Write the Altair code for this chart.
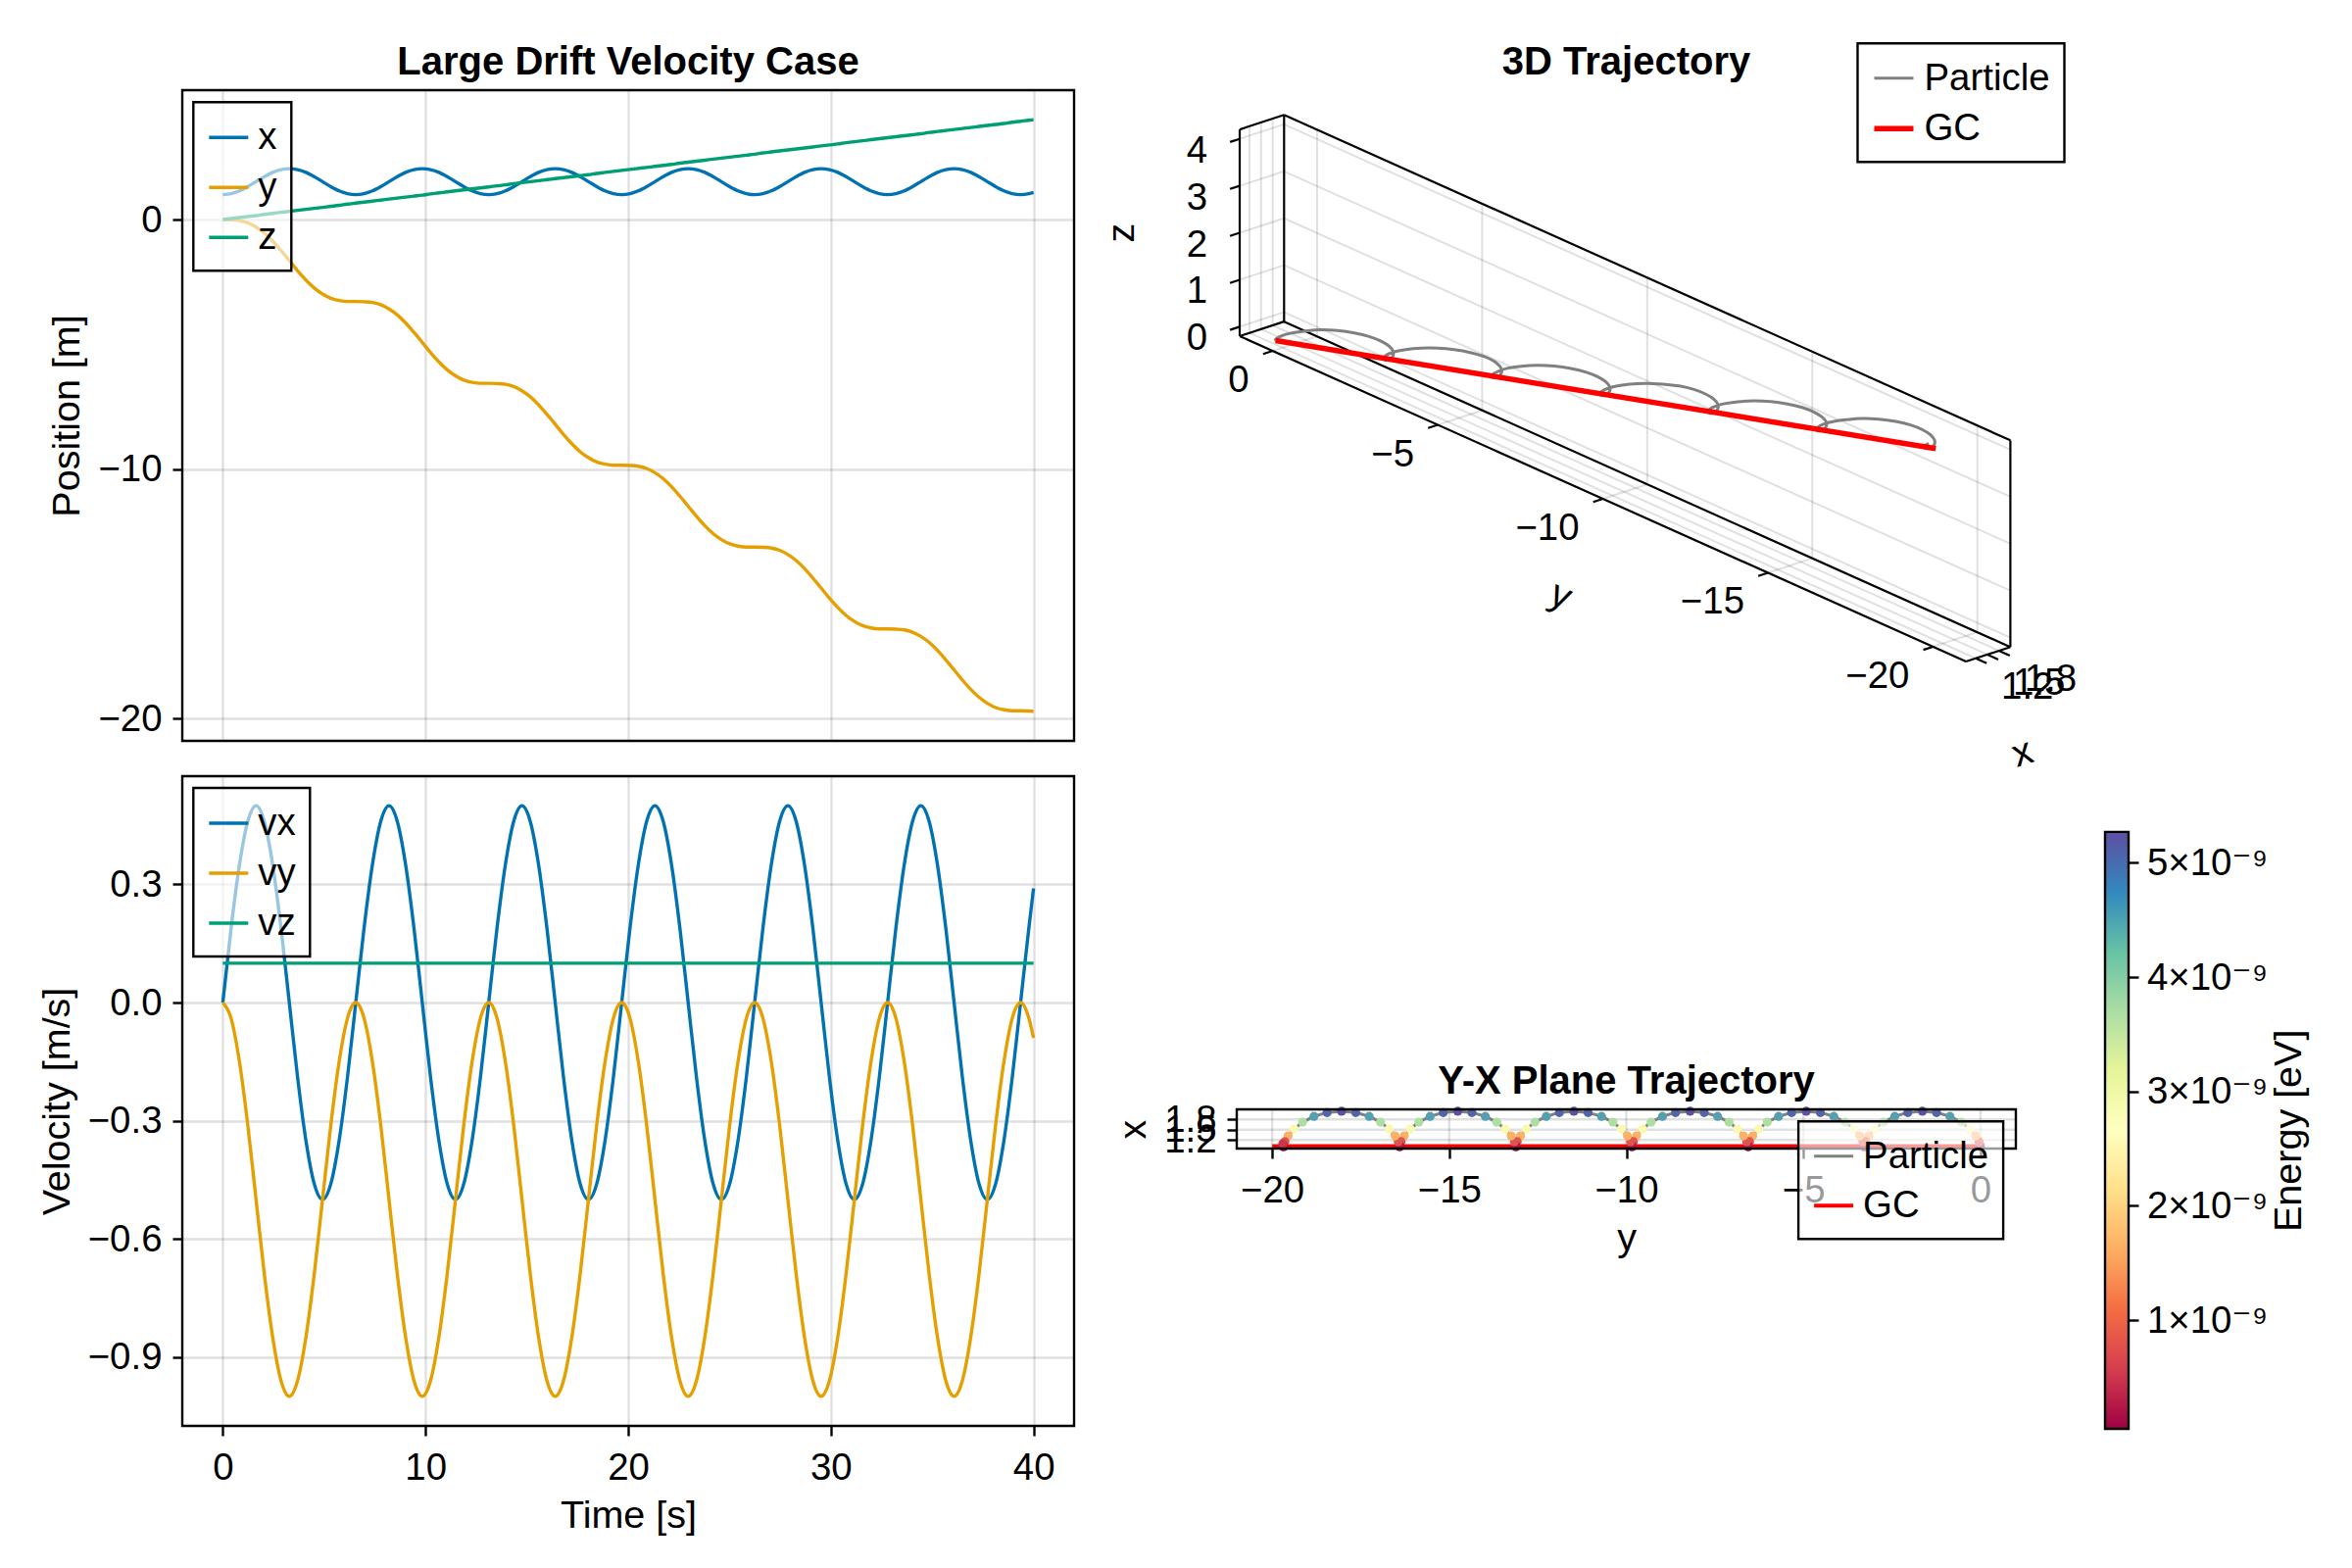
import math
import altair as alt
import pandas as pd

FONT = "Liberation Sans, Helvetica, Arial, DejaVu Sans, sans-serif"
FS = 38.4      # tick / legend labels
FS_T = 39.5    # axis titles
FS_H = 40.0    # panel titles
TITLE_OFF = 8.4

# ---------------- data ----------------
t = [
    0.00, 0.41, 0.82, 1.23, 1.64, 2.05, 2.46, 2.87, 3.28, 3.69, 4.10, 4.51, 4.92, 5.33, 5.74, 6.15,
    6.56, 6.97, 7.38, 7.79, 8.20, 8.61, 9.02, 9.43, 9.84, 10.25, 10.66, 11.07, 11.48, 11.89, 12.30, 12.71,
    13.12, 13.53, 13.94, 14.35, 14.76, 15.17, 15.58, 15.99, 16.40, 16.81, 17.22, 17.63, 18.04, 18.45, 18.86, 19.27,
    19.68, 20.09, 20.50, 20.91, 21.32, 21.73, 22.14, 22.55, 22.96, 23.37, 23.78, 24.19, 24.60, 25.01, 25.42, 25.83,
    26.24, 26.65, 27.06, 27.47, 27.88, 28.29, 28.70, 29.11, 29.52, 29.93, 30.34, 30.75, 31.16, 31.57, 31.98, 32.39,
    32.80, 33.21, 33.62, 34.03, 34.44, 34.85, 35.26, 35.67, 36.08, 36.49, 36.90, 37.31, 37.72, 38.13, 38.54, 38.95,
    39.36, 39.77, 40.00,
]
pos_x = [
    1.00, 1.04, 1.15, 1.32, 1.52, 1.72, 1.89, 2.00, 2.04, 2.00, 1.89, 1.72, 1.52, 1.32, 1.15, 1.04,
    1.00, 1.04, 1.15, 1.32, 1.52, 1.72, 1.89, 2.00, 2.04, 2.00, 1.89, 1.72, 1.52, 1.32, 1.15, 1.04,
    1.00, 1.04, 1.15, 1.32, 1.52, 1.72, 1.89, 2.00, 2.04, 2.00, 1.89, 1.72, 1.52, 1.32, 1.15, 1.04,
    1.00, 1.04, 1.15, 1.32, 1.52, 1.72, 1.89, 2.00, 2.04, 2.00, 1.89, 1.72, 1.52, 1.32, 1.15, 1.04,
    1.00, 1.04, 1.15, 1.32, 1.52, 1.72, 1.89, 2.00, 2.04, 2.00, 1.89, 1.72, 1.52, 1.32, 1.15, 1.04,
    1.00, 1.04, 1.15, 1.32, 1.52, 1.72, 1.89, 2.00, 2.04, 2.00, 1.89, 1.72, 1.52, 1.32, 1.15, 1.04,
    1.00, 1.04, 1.09,
]
pos_y = [
    0.00, -0.01, -0.04, -0.13, -0.30, -0.54, -0.86, -1.24, -1.64, -2.05, -2.42, -2.74, -2.98, -3.15, -3.24, -3.28,
    -3.28, -3.29, -3.32, -3.41, -3.58, -3.82, -4.14, -4.52, -4.92, -5.33, -5.70, -6.02, -6.26, -6.43, -6.52, -6.56,
    -6.56, -6.57, -6.60, -6.69, -6.86, -7.10, -7.42, -7.80, -8.20, -8.61, -8.98, -9.30, -9.54, -9.71, -9.80, -9.84,
    -9.84, -9.85, -9.88, -9.97, -10.14, -10.38, -10.70, -11.08, -11.48, -11.89, -12.26, -12.58, -12.82, -12.99, -13.08, -13.12,
    -13.12, -13.13, -13.16, -13.25, -13.42, -13.66, -13.98, -14.36, -14.76, -15.17, -15.54, -15.86, -16.10, -16.27, -16.36, -16.40,
    -16.40, -16.41, -16.44, -16.53, -16.70, -16.94, -17.26, -17.64, -18.04, -18.45, -18.82, -19.14, -19.38, -19.55, -19.64, -19.68,
    -19.68, -19.69, -19.70,
]
pos_z = [
    0.00, 0.04, 0.08, 0.12, 0.16, 0.21, 0.25, 0.29, 0.33, 0.37, 0.41, 0.45, 0.49, 0.53, 0.57, 0.62,
    0.66, 0.70, 0.74, 0.78, 0.82, 0.86, 0.90, 0.94, 0.98, 1.03, 1.07, 1.11, 1.15, 1.19, 1.23, 1.27,
    1.31, 1.35, 1.39, 1.44, 1.48, 1.52, 1.56, 1.60, 1.64, 1.68, 1.72, 1.76, 1.80, 1.85, 1.89, 1.93,
    1.97, 2.01, 2.05, 2.09, 2.13, 2.17, 2.21, 2.26, 2.30, 2.34, 2.38, 2.42, 2.46, 2.50, 2.54, 2.58,
    2.62, 2.67, 2.71, 2.75, 2.79, 2.83, 2.87, 2.91, 2.95, 2.99, 3.03, 3.08, 3.12, 3.16, 3.20, 3.24,
    3.28, 3.32, 3.36, 3.40, 3.44, 3.49, 3.53, 3.57, 3.61, 3.65, 3.69, 3.73, 3.77, 3.81, 3.85, 3.90,
    3.94, 3.98, 4.00,
]
vel_x = [
    0.00, 0.19, 0.35, 0.46, 0.50, 0.46, 0.35, 0.19, 0.00, -0.19, -0.35, -0.46, -0.50, -0.46, -0.35, -0.19,
    0.00, 0.19, 0.35, 0.46, 0.50, 0.46, 0.35, 0.19, 0.00, -0.19, -0.35, -0.46, -0.50, -0.46, -0.35, -0.19,
    0.00, 0.19, 0.35, 0.46, 0.50, 0.46, 0.35, 0.19, 0.00, -0.19, -0.35, -0.46, -0.50, -0.46, -0.35, -0.19,
    0.00, 0.19, 0.35, 0.46, 0.50, 0.46, 0.35, 0.19, 0.00, -0.19, -0.35, -0.46, -0.50, -0.46, -0.35, -0.19,
    0.00, 0.19, 0.35, 0.46, 0.50, 0.46, 0.35, 0.19, 0.00, -0.19, -0.35, -0.46, -0.50, -0.46, -0.35, -0.19,
    0.00, 0.19, 0.35, 0.46, 0.50, 0.46, 0.35, 0.19, 0.00, -0.19, -0.35, -0.46, -0.50, -0.46, -0.35, -0.19,
    0.00, 0.19, 0.29,
]
vel_y = [
    0.00, -0.04, -0.15, -0.31, -0.50, -0.69, -0.85, -0.96, -1.00, -0.96, -0.85, -0.69, -0.50, -0.31, -0.15, -0.04,
    0.00, -0.04, -0.15, -0.31, -0.50, -0.69, -0.85, -0.96, -1.00, -0.96, -0.85, -0.69, -0.50, -0.31, -0.15, -0.04,
    0.00, -0.04, -0.15, -0.31, -0.50, -0.69, -0.85, -0.96, -1.00, -0.96, -0.85, -0.69, -0.50, -0.31, -0.15, -0.04,
    0.00, -0.04, -0.15, -0.31, -0.50, -0.69, -0.85, -0.96, -1.00, -0.96, -0.85, -0.69, -0.50, -0.31, -0.15, -0.04,
    0.00, -0.04, -0.15, -0.31, -0.50, -0.69, -0.85, -0.96, -1.00, -0.96, -0.85, -0.69, -0.50, -0.31, -0.15, -0.04,
    0.00, -0.04, -0.15, -0.31, -0.50, -0.69, -0.85, -0.96, -1.00, -0.96, -0.85, -0.69, -0.50, -0.31, -0.15, -0.04,
    0.00, -0.04, -0.09,
]
vz_t = [0.0, 40.0]
vz_v = [0.1, 0.1]
# kinetic energy in units of 1e-9 eV
energy_e9 = [
    0.05, 0.25, 0.82, 1.67, 2.66, 3.66, 4.51, 5.07, 5.27, 5.07, 4.51, 3.66, 2.66, 1.67, 0.82, 0.25,
    0.05, 0.25, 0.82, 1.67, 2.66, 3.66, 4.51, 5.07, 5.27, 5.07, 4.51, 3.66, 2.66, 1.67, 0.82, 0.25,
    0.05, 0.25, 0.82, 1.67, 2.66, 3.66, 4.51, 5.07, 5.27, 5.07, 4.51, 3.66, 2.66, 1.67, 0.82, 0.25,
    0.05, 0.25, 0.82, 1.67, 2.66, 3.66, 4.51, 5.07, 5.27, 5.07, 4.51, 3.66, 2.66, 1.67, 0.82, 0.25,
    0.05, 0.25, 0.82, 1.67, 2.66, 3.66, 4.51, 5.07, 5.27, 5.07, 4.51, 3.66, 2.66, 1.67, 0.82, 0.25,
    0.05, 0.25, 0.82, 1.67, 2.66, 3.66, 4.51, 5.07, 5.27, 5.07, 4.51, 3.66, 2.66, 1.67, 0.82, 0.25,
    0.05, 0.25, 0.52,
]
gc_t = [0.0, 40.0]
gc_x = [1.02, 1.02]
gc_y = [0.0, -20.0]
gc_z = [0.0, 4.0]

pos_series = ["x", "y", "z"]
vel_series = ["vx", "vy", "vz"]
traj_series = ["Particle", "GC"]
wong = ["#0072B2", "#E69F00", "#009E73"]
time_ticks = [0, 10, 20, 30, 40]
pos_ticks = [-20, -10, 0]
vel_ticks = [-0.9, -0.6, -0.3, 0.0, 0.3]
x3_ticks = [1.2, 1.5, 1.8]
y3_ticks = [-20, -15, -10, -5, 0]
z3_ticks = [0, 1, 2, 3, 4]
energy_ticks = [1, 2, 3, 4, 5]
spectral = ["#9e0142", "#d53e4f", "#f46d43", "#fdae61", "#fee08b", "#ffffbf",
            "#e6f598", "#abdda4", "#66c2a5", "#3288bd", "#5e4fa2"]

# ---------------- tables ----------------
n = len(t)
traj_df = pd.DataFrame({"t": t, "x": pos_x, "y": pos_y, "z": pos_z,
                        "vx": vel_x, "vy": vel_y, "E": energy_e9})
pos_df = pd.DataFrame({"t": t * 3, "value": pos_x + pos_y + pos_z,
                       "series": ["x"] * n + ["y"] * n + ["z"] * n})
vel_df = pd.DataFrame({"t": t + t + vz_t, "value": vel_x + vel_y + vz_v,
                       "series": ["vx"] * n + ["vy"] * n + ["vz"] * len(vz_t)})
gc_df = pd.DataFrame({"t": gc_t, "x": gc_x, "y": gc_y, "z": gc_z})
lines_df = pd.concat([traj_df[["t", "x", "y", "z"]].assign(series="Particle"),
                      gc_df.assign(series="GC")], ignore_index=True)
emin, emax = min(energy_e9), max(energy_e9)


def legend_at(lx, ly):
    return alt.Legend(title=None, orient="none", legendX=lx, legendY=ly)


# ---------------- top-left: positions ----------------
pos_chart = alt.Chart(pos_df).mark_line(strokeWidth=3.4, interpolate="monotone").encode(
    x=alt.X("t:Q", scale=alt.Scale(domain=[-2, 42], nice=False, zero=False),
            axis=alt.Axis(values=time_ticks, labels=False, ticks=False, title=None)),
    y=alt.Y("value:Q", scale=alt.Scale(domain=[-20.885, 5.185], nice=False, zero=False),
            axis=alt.Axis(values=pos_ticks, title="Position [m]")),
    color=alt.Color("series:N", scale=alt.Scale(domain=pos_series, range=wong),
                    legend=legend_at(11.3, 12.3)),
).properties(width=910, height=664, title="Large Drift Velocity Case")

# ---------------- bottom-left: velocities ----------------
vel_chart = alt.Chart(vel_df).mark_line(strokeWidth=3.4, interpolate="monotone").encode(
    x=alt.X("t:Q", scale=alt.Scale(domain=[-2, 42], nice=False, zero=False),
            axis=alt.Axis(values=time_ticks, title="Time [s]")),
    y=alt.Y("value:Q", scale=alt.Scale(domain=[-1.075, 0.575], nice=False, zero=False),
            axis=alt.Axis(values=vel_ticks, format=".1f", title="Velocity [m/s]")),
    color=alt.Color("series:N", scale=alt.Scale(domain=vel_series, range=wong),
                    legend=legend_at(11.3, 12.0)),
).properties(width=910, height=663)

# ---------------- 3D trajectory (orthographic projection, Makie default view) ----------------
XL = (0.948, 2.096)
YL = (-21.0, 1.0)
ZL = (-0.2, 4.2)
az = 1.275 * math.pi
el = math.pi / 8
rx, ry = -math.sin(az), math.cos(az)
ux, uy, uz = -math.sin(el) * math.cos(az), -math.sin(el) * math.sin(az), math.cos(el)


def PX(a, b):
    return f"{rx:.5f}*(datum.{a}-({XL[0]})) + {ry:.5f}*(datum.{b}-({YL[1]}))"


def PY(a, b, c):
    return (f"{ux:.5f}*(datum.{a}-({XL[0]})) + {uy:.5f}*(datum.{b}-({YL[1]}))"
            f" + {uz:.5f}*(datum.{c}-({ZL[0]}))")


S3 = 51.87
W3, H3 = 720, 583
top_py = ux * (XL[1] - XL[0]) + uz * (ZL[1] - ZL[0])
px_lo = -3.0 / S3
py_hi = top_py + 25.3 / S3
SX3 = alt.Scale(domain=[px_lo, px_lo + W3 / S3], nice=False, zero=False)
SY3 = alt.Scale(domain=[py_hi - H3 / S3, py_hi], nice=False, zero=False)

segs = []


def add(kind, a, b):
    segs.append(dict(kind=kind, x1=a[0], y1=a[1], z1=a[2], x2=b[0], y2=b[1], z2=b[2]))


x0, x1 = XL
y0, y1 = YL
z0, z1 = ZL
add("frame", (x0, y1, z0), (x0, y1, z1))
add("frame", (x1, y1, z0), (x1, y1, z1))
add("frame", (x0, y1, z1), (x1, y1, z1))
add("frame", (x0, y1, z0), (x1, y1, z0))
add("frame", (x1, y0, z1), (x1, y1, z1))
add("frame", (x1, y0, z0), (x1, y1, z0))
add("frame", (x1, y0, z0), (x1, y0, z1))
add("frame", (x0, y0, z0), (x0, y1, z0))
add("frame", (x0, y0, z0), (x1, y0, z0))
for yv in y3_ticks:
    add("grid", (x1, yv, z0), (x1, yv, z1))
    add("grid", (x0, yv, z0), (x1, yv, z0))
for zv in z3_ticks:
    add("grid", (x1, y0, zv), (x1, y1, zv))
    add("grid", (x0, y1, zv), (x1, y1, zv))
for xv in x3_ticks:
    add("grid", (xv, y1, z0), (xv, y1, z1))
    add("grid", (xv, y0, z0), (xv, y1, z0))
for yv in y3_ticks:
    add("tick", (x0, yv, z0), (x0 - 0.25, yv, z0))
for zv in z3_ticks:
    add("tick", (x0, y1, zv), (x0 - 0.25, y1, zv))
for xv in x3_ticks:
    add("tick", (xv, y0, z0), (xv, y0 - 0.33, z0))
seg_df = pd.DataFrame(segs)


def seg_layer(kind, **mk):
    return alt.Chart(seg_df).transform_filter(alt.datum.kind == kind).transform_calculate(
        p1x=PX("x1", "y1"), p1y=PY("x1", "y1", "z1"),
        p2x=PX("x2", "y2"), p2y=PY("x2", "y2", "z2"),
    ).mark_rule(**mk).encode(
        x=alt.X("p1x:Q", scale=SX3, axis=None), y=alt.Y("p1y:Q", scale=SY3, axis=None),
        x2="p2x:Q", y2="p2y:Q")


def fmt(v):
    return f"{v:g}".replace("-", "\u2212")


def local_offset(ox, oy, angle):
    # Vega applies dx/dy in the rotated text frame: convert a screen offset
    a = math.radians(angle)
    return (ox * math.cos(a) + oy * math.sin(a), -ox * math.sin(a) + oy * math.cos(a))


zlab_df = pd.DataFrame({"x": [x0] * len(z3_ticks), "y": [y1] * len(z3_ticks), "z": z3_ticks,
                        "label": [fmt(v) for v in z3_ticks]})
ylab_df = pd.DataFrame({"x": [x0] * len(y3_ticks), "y": y3_ticks, "z": [z0] * len(y3_ticks),
                        "label": [fmt(v) for v in y3_ticks]})
xlab_df = pd.DataFrame({"x": x3_ticks, "y": [y0] * len(x3_ticks), "z": [z0] * len(x3_ticks),
                        "label": [f"{v:.1f}" for v in x3_ticks]})
xt_df = pd.DataFrame({"x": [(x0 + x1) / 2], "y": [y0], "z": [z0], "label": ["x"]})
yt_df = pd.DataFrame({"x": [x0], "y": [(y0 + y1) / 2], "z": [z0], "label": ["y"]})
zt_df = pd.DataFrame({"x": [x0], "y": [y1], "z": [(z0 + z1) / 2], "label": ["z"]})


def text3d(df, fs=FS, **mk):
    return alt.Chart(df).transform_calculate(px=PX("x", "y"), py=PY("x", "y", "z")).mark_text(
        font=FONT, fontSize=fs, color="black", **mk).encode(
        x=alt.X("px:Q", scale=SX3, axis=None), y=alt.Y("py:Q", scale=SY3, axis=None),
        text="label:N")


xdx, xdy = local_offset(35, 101, 342)
ydx, ydy = local_offset(-43, 99, 24)
zdx, zdy = local_offset(-120, 0, 270)

lines3d = alt.Chart(lines_df).transform_calculate(
    px=PX("x", "y"), py=PY("x", "y", "z")
).mark_line(interpolate="catmull-rom").encode(
    x=alt.X("px:Q", scale=SX3, axis=None),
    y=alt.Y("py:Q", scale=SY3, axis=None),
    stroke=alt.Stroke("series:N", scale=alt.Scale(domain=traj_series, range=["gray", "red"]),
                      legend=legend_at(633.5, -47.7)),
    strokeWidth=alt.StrokeWidth("series:N", scale=alt.Scale(domain=traj_series, range=[3.0, 5.5]),
                                legend=legend_at(633.5, -47.7)),
    order="t:Q",
)

traj3d = alt.layer(
    seg_layer("grid", color="black", opacity=0.12, strokeWidth=2),
    seg_layer("frame", color="black", strokeWidth=2.2),
    seg_layer("tick", color="black", strokeWidth=2.2),
    lines3d,
    text3d(zlab_df, align="right", baseline="middle", dx=-33, dy=12),
    text3d(ylab_df, align="right", baseline="middle", dx=-24, dy=30),
    text3d(xlab_df, align="left", baseline="middle", dx=26, dy=29),
    text3d(xt_df, fs=FS_T, align="center", baseline="middle", dx=xdx, dy=xdy, angle=342),
    text3d(yt_df, fs=FS_T, align="center", baseline="middle", dx=ydx, dy=ydy, angle=24),
    text3d(zt_df, fs=FS_T, align="center", baseline="middle", dx=zdx, dy=zdy, angle=270),
).properties(width=W3, height=H3,
             title=alt.TitleParams("3D Trajectory", offset=-(48.9 - TITLE_OFF), dx=37.5),
             view=alt.ViewBackground(strokeOpacity=0))

# ---------------- Y-X plane (box drawn in the lower 40 px of its cell) ----------------
YX_W, YX_H = 720, 380
BOX_W, BOX_H = 795, 40
xy_dom = [YL[0], YL[1]]
xx_dom = [XL[0], XL[1]]
SXY = alt.Scale(domain=xy_dom, range=[0, BOX_W], nice=False, zero=False)
SYY = alt.Scale(domain=xx_dom, range=[YX_H, YX_H - BOX_H], nice=False, zero=False)
ax_yx_x = alt.Axis(values=y3_ticks, title="y", grid=False)
ax_yx_y = alt.Axis(values=x3_ticks, format=".1f", title="x", grid=False)

vgrid_df = pd.DataFrame({"gx": y3_ticks, "lo": [xx_dom[0]] * len(y3_ticks), "hi": [xx_dom[1]] * len(y3_ticks)})
hgrid_df = pd.DataFrame({"gy": x3_ticks, "lo": [xy_dom[0]] * len(x3_ticks), "hi": [xy_dom[1]] * len(x3_ticks)})
box_df = pd.DataFrame({"xa": [xy_dom[0]], "xb": [xy_dom[1]], "ya": [xx_dom[0]], "yb": [xx_dom[1]]})

yx_vgrid = alt.Chart(vgrid_df).mark_rule(color="black", opacity=0.12, strokeWidth=2.4).encode(
    x=alt.X("gx:Q", scale=SXY, axis=ax_yx_x), y=alt.Y("lo:Q", scale=SYY, axis=ax_yx_y), y2="hi:Q")
yx_hgrid = alt.Chart(hgrid_df).mark_rule(color="black", opacity=0.12, strokeWidth=2.4).encode(
    y=alt.Y("gy:Q", scale=SYY, axis=ax_yx_y), x=alt.X("lo:Q", scale=SXY, axis=ax_yx_x), x2="hi:Q")
yx_lines = alt.Chart(lines_df).mark_line().encode(
    x=alt.X("y:Q", scale=SXY, axis=ax_yx_x),
    y=alt.Y("x:Q", scale=SYY, axis=ax_yx_y),
    stroke=alt.Stroke("series:N", scale=alt.Scale(domain=traj_series, range=["gray", "red"]),
                      legend=legend_at(573.1, 352.3)),
    strokeWidth=alt.StrokeWidth("series:N", scale=alt.Scale(domain=traj_series, range=[3.0, 4.0]),
                                legend=legend_at(573.1, 352.3)),
    order="t:Q",
)
yx_pts = alt.Chart(traj_df).mark_circle(size=85, opacity=1).encode(
    x=alt.X("y:Q", scale=SXY, axis=ax_yx_x),
    y=alt.Y("x:Q", scale=SYY, axis=ax_yx_y),
    fill=alt.Fill("E:Q", scale=alt.Scale(scheme="spectral", domain=[emin, emax]), legend=None),
)
yx_box = alt.Chart(box_df).mark_rect(filled=False, stroke="black", strokeWidth=2.4).encode(
    x=alt.X("xa:Q", scale=SXY, axis=ax_yx_x), x2="xb:Q",
    y=alt.Y("ya:Q", scale=SYY, axis=ax_yx_y), y2="yb:Q")
yx_chart = alt.layer(yx_vgrid, yx_hgrid, yx_lines, yx_pts, yx_box).properties(
    width=YX_W, height=YX_H,
    title=alt.TitleParams("Y-X Plane Trajectory", offset=-(YX_H - BOX_H - TITLE_OFF), dx=37.5),
    view=alt.ViewBackground(strokeOpacity=0))

# ---------------- colour bar ----------------
CB_H = 666
CB_PX_PER_UNIT = 116.7
grad = alt.LinearGradient(
    gradient="linear", x1=0, x2=0, y1=1, y2=0,
    stops=[alt.GradientStop(color=c, offset=i / (len(spectral) - 1)) for i, c in enumerate(spectral)],
)
cb_df = pd.DataFrame({"lo": [emin], "hi": [emax]})
cbar = alt.Chart(cb_df).mark_rect(fill=grad, stroke="black", strokeWidth=2.4).encode(
    y=alt.Y("lo:Q",
            scale=alt.Scale(domain=[emin, emin + CB_H / CB_PX_PER_UNIT], nice=False, zero=False),
            axis=alt.Axis(orient="right", values=energy_ticks,
                          labelExpr="datum.value + '\u00d710\u207b\u2079'",
                          title="Energy [eV]", titleAngle=270, titleX=163, titleY=361.3,
                          titleAlign="center", titleBaseline="middle",
                          grid=False, labelPadding=8.4, tickSize=10)),
    y2="hi:Q",
    x=alt.value(0),
    x2=alt.value(24),
).properties(width=24, height=CB_H, view=alt.ViewBackground(strokeOpacity=0))

placeholder = alt.Chart(cb_df).mark_point(opacity=0).encode(
    x=alt.value(0), y=alt.value(0)
).properties(width=24, height=10, view=alt.ViewBackground(strokeOpacity=0))

# ---------------- assemble ----------------
chart = alt.concat(
    pos_chart, traj3d, placeholder, vel_chart, yx_chart, cbar,
    columns=3, spacing={"row": 36, "column": 166}, bounds="flush",
).resolve_scale(
    color="independent", stroke="independent", strokeWidth="independent", fill="independent",
).properties(
    padding={"left": 29, "top": 34, "right": 10, "bottom": 10},
    background="white",
).configure_view(
    stroke="black", strokeWidth=2.4,
).configure_axis(
    labelFont=FONT, labelFontSize=FS, titleFont=FONT, titleFontSize=FS_T, titleFontWeight="normal",
    labelColor="black", titleColor="black", tickColor="black", tickWidth=2.4, tickSize=10,
    domain=False, gridColor="black", gridOpacity=0.12, gridWidth=2.4,
    labelOverlap=False, labelFlush=False, titlePadding=11,
).configure_axisX(
    labelPadding=14,
).configure_axisY(
    labelPadding=11,
).configure_legend(
    labelFont=FONT, labelFontSize=FS, labelColor="black", padding=14, rowPadding=9,
    symbolSize=1600, symbolType="stroke", symbolStrokeWidth=3.4, symbolOpacity=1, labelOffset=8,
    strokeColor="black", strokeWidth=2.4, fillColor="rgba(255,255,255,0.6)",
).configure_title(
    font=FONT, fontSize=FS_H, fontWeight="bold", color="black", anchor="middle",
    frame="group", offset=TITLE_OFF, baseline="alphabetic",
)

chart.save("out.html", embed_options={"renderer": "svg", "actions": False})
